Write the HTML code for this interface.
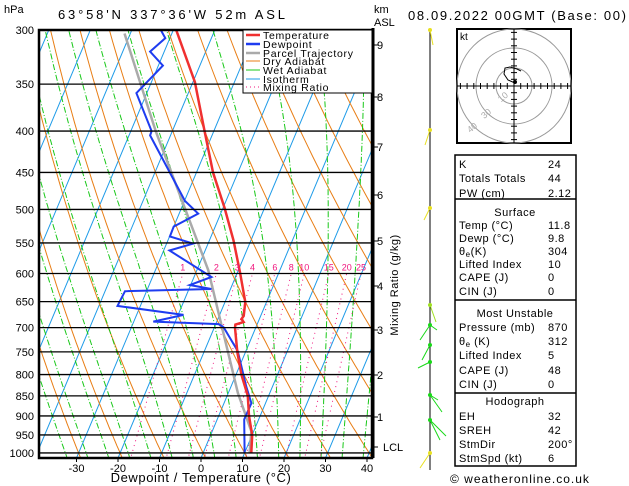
<!DOCTYPE html>
<html><head><meta charset="utf-8"><style>
body{margin:0;background:#fff;}
svg{display:block;font-family:"Liberation Sans",sans-serif;}
</style></head><body>
<svg id="c" width="629" height="486" viewBox="0 0 629 486">
<defs><clipPath id="plot"><rect x="39" y="30" width="333" height="428"/></clipPath></defs>
<g id="bg" clip-path="url(#plot)"></g>
<g id="series" clip-path="url(#plot)"></g>
<g id="axes"></g>
<text x="4" y="13" font-size="11">hPa</text>
<text x="58" y="19" font-size="13" textLength="227" lengthAdjust="spacing">63°58'N  337°36'W  52m  ASL</text>
<text x="374" y="13" font-size="11">km</text>
<text x="374" y="26" font-size="11">ASL</text>
<text x="408" y="20" font-size="13" textLength="218" lengthAdjust="spacing">08.09.2022  00GMT  (Base: 00)</text>
<text x="201" y="482" font-size="13" letter-spacing="0.6" text-anchor="middle">Dewpoint / Temperature (°C)</text>
<text transform="translate(398,285) rotate(-90)" font-size="11" letter-spacing="0.5" text-anchor="middle">Mixing Ratio (g/kg)</text>
<g letter-spacing="0.7">
<rect x="243" y="30" width="129" height="63" fill="#fff" stroke="#000" stroke-width="1"/>
<line x1="246" y1="35" x2="260" y2="35" stroke="#f03030" stroke-width="2.5"/><text x="263" y="39" font-size="10.5">Temperature</text>
<line x1="246" y1="44" x2="260" y2="44" stroke="#1e3cf0" stroke-width="2.5"/><text x="263" y="48" font-size="10.5">Dewpoint</text>
<line x1="246" y1="53" x2="260" y2="53" stroke="#aaa" stroke-width="2.5"/><text x="263" y="57" font-size="10.5">Parcel Trajectory</text>
<line x1="246" y1="61" x2="260" y2="61" stroke="#e87d14" stroke-width="1"/><text x="263" y="65" font-size="10.5">Dry Adiabat</text>
<line x1="246" y1="70" x2="260" y2="70" stroke="#18c818" stroke-width="1"/><text x="263" y="74" font-size="10.5">Wet Adiabat</text>
<line x1="246" y1="79" x2="260" y2="79" stroke="#1e9be8" stroke-width="1"/><text x="263" y="83" font-size="10.5">Isotherm</text>
<line x1="246" y1="87" x2="260" y2="87" stroke="#f0147d" stroke-width="1" stroke-dasharray="1,3"/><text x="263" y="91" font-size="10.5">Mixing Ratio</text>
</g>
<g id="wind"></g>
<g>
<rect x="457" y="29" width="114" height="114" fill="#fff" stroke="#000" stroke-width="2"/>
<circle cx="514" cy="86" r="18" fill="none" stroke="#999"/>
<circle cx="514" cy="86" r="38" fill="none" stroke="#999"/>
<circle cx="514" cy="86" r="57" fill="none" stroke="#999"/>
<line x1="457" y1="86" x2="571" y2="86" stroke="#000"/>
<line x1="514" y1="29" x2="514" y2="143" stroke="#000"/>
<g id="hticks"></g>
<text x="460" y="40" font-size="10">kt</text>
<text x="499" y="101" font-size="9" fill="#aaa" transform="rotate(-40 502 99)">10</text>
<text x="482" y="117" font-size="9" fill="#aaa" transform="rotate(-40 486 115)">30</text>
<text x="468" y="131" font-size="9" fill="#aaa" transform="rotate(-40 472 129)">40</text>
<path d="M515 83 L508 80 L504 74 L505 68 L510 67 L517 69 L521 71" fill="none" stroke="#000" stroke-width="1"/>
<circle cx="515" cy="82" r="2" fill="#000"/>
</g>
<g font-size="11" letter-spacing="0.5">
<rect x="455" y="155" width="121" height="311" fill="none" stroke="#000" stroke-width="1.5"/>
<line x1="455" y1="199" x2="576" y2="199" stroke="#000" stroke-width="1.5"/>
<line x1="455" y1="300" x2="576" y2="300" stroke="#000" stroke-width="1.5"/>
<line x1="455" y1="393" x2="576" y2="393" stroke="#000" stroke-width="1.5"/>
<text x="459" y="168">K</text><text x="548" y="168">24</text>
<text x="459" y="182">Totals Totals</text><text x="548" y="182">44</text>
<text x="459" y="197">PW (cm)</text><text x="548" y="197">2.12</text>
<text x="515" y="216" text-anchor="middle">Surface</text>
<text x="459" y="229">Temp (°C)</text><text x="548" y="229">11.8</text>
<text x="459" y="242">Dewp (°C)</text><text x="548" y="242">9.8</text>
<text x="459" y="255">θ<tspan font-size="8" dy="2">e</tspan><tspan dy="-2">(K)</tspan></text><text x="548" y="255">304</text>
<text x="459" y="268">Lifted Index</text><text x="548" y="268">10</text>
<text x="459" y="281">CAPE (J)</text><text x="548" y="281">0</text>
<text x="459" y="295">CIN (J)</text><text x="548" y="295">0</text>
<text x="515" y="317" text-anchor="middle">Most Unstable</text>
<text x="459" y="331">Pressure (mb)</text><text x="548" y="331">870</text>
<text x="459" y="345">θ<tspan font-size="8" dy="2">e</tspan><tspan dy="-2"> (K)</tspan></text><text x="548" y="345">312</text>
<text x="459" y="359">Lifted Index</text><text x="548" y="359">5</text>
<text x="459" y="374">CAPE (J)</text><text x="548" y="374">48</text>
<text x="459" y="388">CIN (J)</text><text x="548" y="388">0</text>
<text x="515" y="405" text-anchor="middle">Hodograph</text>
<text x="459" y="420">EH</text><text x="548" y="420">32</text>
<text x="459" y="434">SREH</text><text x="548" y="434">42</text>
<text x="459" y="448">StmDir</text><text x="548" y="448">200°</text>
<text x="459" y="462">StmSpd (kt)</text><text x="548" y="462">6</text>
</g>
<text x="450" y="483" font-size="12" letter-spacing="1">© weatheronline.co.uk</text>
<script>
const tempP=[1000,950,900,850,800,750,700,694,689,683,677,651,598,546,498,450,398,348,300];
const tempT=[11.6,10,7.3,5,1.3,-2,-5.0,-5.2,-3.5,-4.3,-4.1,-5.1,-9.4,-14.2,-19.6,-26,-32.5,-39.5,-49.3];
const dewP=[1000,909,868,828,748,699,693,688,675,658,631,627,620,606,562,551,540,525,506,488,405,400,359,332,319,307,300];
const dewT=[10,6.5,6.6,3.7,-2,-7.8,-9.3,-25.3,-18.7,-35.5,-35.2,-14.6,-20.2,-15.8,-28.6,-23.6,-29.9,-30,-25.4,-29.9,-44.9,-45,-52.5,-48.9,-53.4,-51.1,-53];
const parcelP=[1000,940,843,705,594,550,400,303];
const parcelT=[11.2,9.4,2.3,-7.7,-17.3,-22.5,-44,-61.4];
const pressureTicks=[300,350,400,450,500,550,600,650,700,750,800,850,900,950,1000];
const tempTicks=[-30,-20,-10,0,10,20,30,40];
const kmTicks=[9,8,7,6,5,4,3,2,1];
const kmY=[45,97,147,195,241,286,330,375,417];
const mixRatios=[1,2,3,4,6,8,10,15,20,25];
const NS='http://www.w3.org/2000/svg';
function yP(p){return 30+351.3*Math.log(p/300);}
function xT(T,p){return 201+4.15*T+0.42*(458-yP(p));}
function mk(tag,attrs,parent){const e=document.createElementNS(NS,tag);for(const k in attrs)e.setAttribute(k,attrs[k]);parent.appendChild(e);return e;}
const bg=document.getElementById('bg'),ser=document.getElementById('series'),ax=document.getElementById('axes');
function poly(pts,style,parent,name){const e=mk('polyline',Object.assign({points:pts.map(q=>q[0].toFixed(1)+','+q[1].toFixed(1)).join(' '),fill:'none'},style),parent);


return e;}
for(let T=-120;T<=50;T+=10){poly([[xT(T,1050),yP(1050)],[xT(T,250),yP(250)]],{stroke:'#1e9be8','stroke-width':1},bg,'isotherm');}
for(let th=-40;th<=200;th+=10){const pts=[];for(let p=1050;p>=280;p-=10){const T=(th+273.15)*Math.pow(p/1000,0.286)-273.15;pts.push([xT(T,p),yP(p)]);}poly(pts,{stroke:'#e87d14','stroke-width':1},bg,'dry-adiabat');}
function es(Tc){return 6.112*Math.exp(17.67*Tc/(Tc+243.5));}
for(let T0=-30;T0<=40;T0+=5){let T=T0+273.15;const pts=[[xT(T0,1050),yP(1050)]];let p=1050;while(p>280){const e=es(T-273.15),rs=0.622*e/(p-e);const d=(1/p)*(287*T+2.5e6*rs)/(1004+2.5e6*2.5e6*rs*0.622/(287*T*T));T-=d*5;p-=5;pts.push([xT(T-273.15,p),yP(p)]);}poly(pts,{stroke:'#18c818','stroke-width':1,'stroke-dasharray':'6,2,1,2'},bg,'wet-adiabat');}
function Tw(w,p){const e=w*p/(622+w);const l=Math.log(e/6.112);return 243.5*l/(17.67-l);}
mixRatios.forEach(w=>{poly([[xT(Tw(w,1050),1050),yP(1050)],[xT(Tw(w,600),600),yP(600)]],{stroke:'#f0147d','stroke-width':1,'stroke-dasharray':'1,4'},bg,'mixing-ratio-line');
const t=mk('text',{x:xT(Tw(w,600),600),y:yP(600)-3,'font-size':9,fill:'#f0147d','text-anchor':'middle'},ax);t.textContent=w;

});
pressureTicks.forEach(p=>{const l=mk('line',{x1:39,x2:372,y1:yP(p),y2:yP(p),stroke:'#000','stroke-width':1.3},ax);


const t=mk('text',{x:34,y:yP(p)+4,'font-size':11,'text-anchor':'end'},ax);t.textContent=p;

});
poly(parcelP.map((p,i)=>[xT(parcelT[i],p),yP(p)]),{stroke:'#aaa','stroke-width':2.5},ser,'parcel-trajectory');
poly(dewP.map((p,i)=>[xT(dewT[i],p),yP(p)]),{stroke:'#1e3cf0','stroke-width':2},ser,'dewpoint-line');
poly(tempP.map((p,i)=>[xT(tempT[i],p),yP(p)]),{stroke:'#f03030','stroke-width':2.5},ser,'temperature-line');
mk('rect',{x:39,y:30,width:333,height:428,fill:'none',stroke:'#000','stroke-width':2.5},ax);
mk('line',{x1:373,y1:28,x2:373,y2:458,stroke:'#000','stroke-width':3},ax);
tempTicks.forEach(T=>{mk('line',{x1:201+4.15*T,x2:201+4.15*T,y1:458,y2:462,stroke:'#000'},ax);
const t=mk('text',{x:201+4.15*T,y:472,'font-size':11,'text-anchor':'middle'},ax);t.textContent=T;

});
kmTicks.forEach((k,i)=>{mk('line',{x1:373,x2:378,y1:kmY[i],y2:kmY[i],stroke:'#000'},ax);
const t=mk('text',{x:377,y:kmY[i]+4,'font-size':11},ax);t.textContent=k;

});
mk('line',{x1:373,x2:378,y1:447,y2:447,stroke:'#000'},ax);
{const t=mk('text',{x:383,y:451,'font-size':11},ax);t.textContent='LCL';}
const w=document.getElementById('wind');
mk('line',{x1:430,x2:430,y1:30,y2:470,stroke:'#000','stroke-width':1},w);
[[30,'#e8e020',[[433,45]]],[130,'#e8e020',[[425,145]]],[208,'#e8e020',[[424,220]]],[305,'#a0e020',[[436,322]]],[325,'#18d818',[[420,340],[437,330]]],[345,'#18d818',[[422,360]]],[362,'#18d818',[[418,368]]],[395,'#18d818',[[442,412],[438,400]]],[420,'#18d818',[[440,440],[446,436]]],[453,'#e8e020',[[420,468]]]].forEach(b=>{
mk('circle',{cx:430,cy:b[0],r:2,fill:b[1]},w);b[2].forEach(q=>mk('line',{x1:430,y1:b[0],x2:q[0],y2:q[1],stroke:b[1]},w));});
const ht=document.getElementById('hticks');
for(let i=-8;i<=8;i++){if(!i)continue;mk('line',{x1:514+i*6.7,x2:514+i*6.7,y1:83,y2:89,stroke:'#000'},ht);mk('line',{x1:511,x2:517,y1:86+i*6.7,y2:86+i*6.7,stroke:'#000'},ht);}
</script>
</svg>
</body></html>
